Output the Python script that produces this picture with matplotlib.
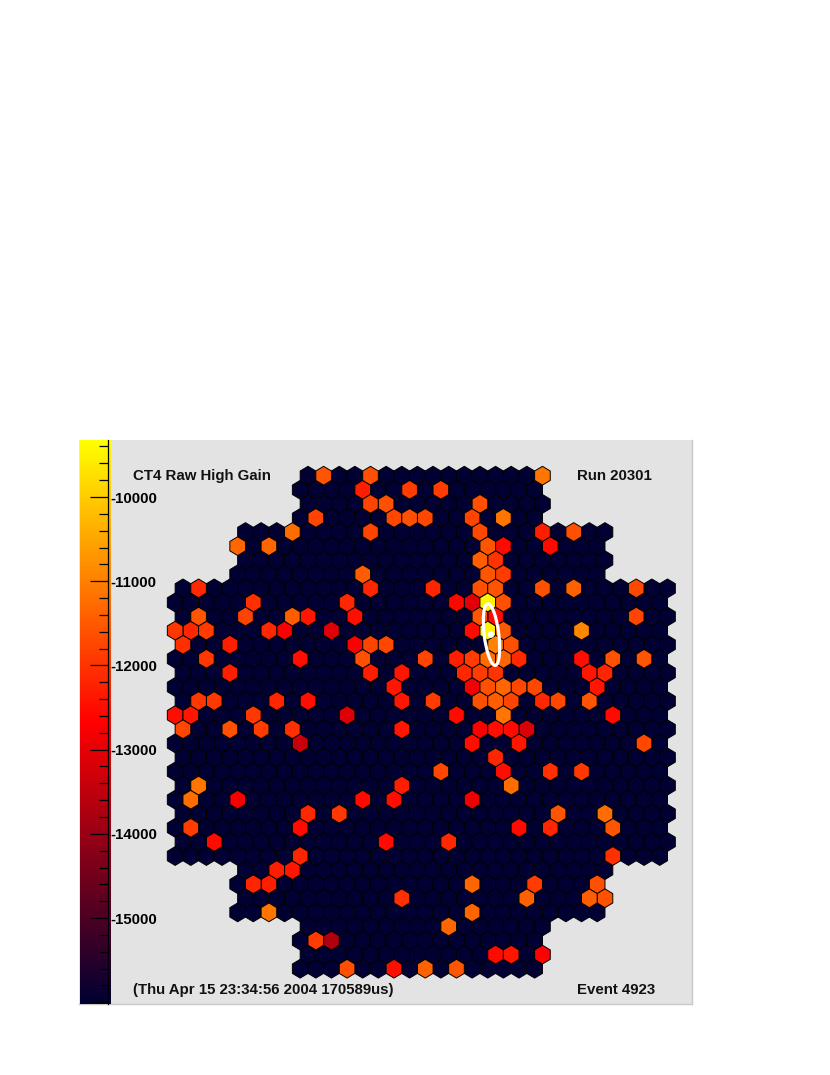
import numpy as np
import matplotlib
matplotlib.use("Agg")
import matplotlib.pyplot as plt
from matplotlib.collections import PolyCollection
from matplotlib.colors import LinearSegmentedColormap, Normalize
from matplotlib.patches import Ellipse

W, H = 830, 1075

# first and last half-column of every camera row
ROW_FIRST = [0, -1, 0, -1, -8, -9, -8, -9] + [-16, -17] * 10 + [-8, -9, -8, -9, 0, -1, 0, -1]
ROW_LAST = [30, 29, 30, 29, 38, 37, 38, 37] + [46, 45] * 10 + [38, 37, 38, 37, 30, 29, 30, 29]

HOT_COLS = [
    [2, 8, 30],
    [7, 13, 17],
    [8, 10, 22],
    [1, 11, 13, 15, 21, 25],
    [-2, 8, 22, 30, 34],
    [-9, -5, 23, 25, 31],
    [22, 24],
    [7, 23, 25],
    [-14, 8, 16, 22, 24, 30, 34, 42],
    [-7, 5, 19, 21, 23, 25],
    [-14, -8, -2, 0, 6, 22, 24, 42],
    [-17, -15, -13, -5, -3, 3, 21, 23, 25, 35],
    [-16, -10, 6, 8, 10, 24, 26],
    [-13, -1, 7, 15, 19, 21, 23, 25, 27, 35, 39, 43],
    [-10, 8, 12, 20, 22, 24, 36, 38],
    [11, 21, 23, 25, 27, 29, 37],
    [-14, -12, -4, 0, 12, 16, 22, 24, 26, 30, 32, 36],
    [-17, -15, -7, 5, 19, 25, 39],
    [-16, -10, -6, -2, 12, 22, 24, 26, 28],
    [-1, 21, 27, 43],
    [24],
    [17, 25, 31, 35],
    [-14, 12, 26],
    [-15, -9, 7, 11, 21],
    [0, 4, 32, 38],
    [-15, -1, 27, 31, 39],
    [-12, 10, 18],
    [-1, 39],
    [-4, -2],
    [-7, -5, 21, 29, 37],
    [12, 28, 36, 38],
    [-5, 21],
    [18],
    [1, 3],
    [24, 26, 30],
    [5, 11, 15, 19],
]
HOT_VALUES = [
    [-11550, -11650, -11150],
    [-12300, -11900, -11900],
    [-11800, -11650, -11650],
    [-11800, -11750, -11650, -11750, -11800, -11150],
    [-11250, -11800, -11750, -12300, -11650],
    [-11350, -11350, -11550, -12550, -12550],
    [-11450, -12000],
    [-11450, -11550, -11900],
    [-12150, -12200, -12200, -11650, -11550, -11650, -11400, -11750],
    [-12050, -12150, -12600, -13050, -9500, -11650],
    [-11550, -11800, -11450, -12400, -12500, -11550, -12550, -11800],
    [-11950, -12200, -11900, -12150, -12750, -13100, -12550, -9500, -11500, -10900],
    [-12050, -12300, -12750, -11800, -11750, -10950, -11650],
    [-11950, -12500, -11650, -11800, -12300, -11900, -11250, -11350, -12150, -12500, -11600, -11550],
    [-12300, -12300, -12400, -12150, -11900, -12000, -12400, -12200],
    [-12400, -12850, -11650, -11350, -11750, -11750, -12400],
    [-11950, -11950, -12200, -12500, -12400, -11900, -11650, -11450, -11800, -12150, -11750, -11550],
    [-12500, -12400, -11950, -13100, -12550, -11150, -12550],
    [-11750, -11650, -11900, -12050, -12400, -12750, -12500, -12550, -13150],
    [-13400, -12500, -12400, -11750],
    [-12200],
    [-11750, -12500, -12050, -11950],
    [-11150, -12300, -11250],
    [-11250, -12800, -12550, -12500, -12900],
    [-12150, -11950, -11550, -11250],
    [-11900, -12550, -12550, -12200, -11550],
    [-12550, -12550, -12150],
    [-12200, -12050],
    [-12300, -12400],
    [-12200, -12300, -11350, -11900, -11650],
    [-12050, -11400, -11450, -11600],
    [-11150, -11350],
    [-11350],
    [-11900, -13700],
    [-12550, -12400, -12650],
    [-11650, -12500, -11400, -11550],
]
BACKGROUND_VALUE = -16000
VMIN, VMAX = -16021, -9323

MAJOR_TICKS = [-16000, -15000, -14000, -13000, -12000, -11000, -10000]
MAJOR_LABELS = ["", "-15000", "-14000", "-13000", "-12000", "-11000", "-10000"]
MINOR_TICKS = [v for v in range(-15800, -9300, 200) if v % 1000 != 0]

# image parameters of the shower, in camera pixels
HILLAS_X, HILLAS_Y = 183.5, 158.9
HILLAS_LENGTH, HILLAS_WIDTH = 31.0, 7.3
HILLAS_ANGLE = -7

PITCH_X, PITCH_Y = 7.815, 14.086
X0, Y0 = 308.0, 475.7

cmap = LinearSegmentedColormap.from_list("ct", ["#000033", "#ff0000", "#ffff00"], N=256)
norm = Normalize(VMIN, VMAX)

plt.rcParams["font.family"] = ["Liberation Sans", "DejaVu Sans"]
plt.rcParams["font.weight"] = "bold"

fig = plt.figure(figsize=(W / 100, H / 100), dpi=100, facecolor="white")


def px_axes(left, top, right, bottom):
    return fig.add_axes([left / W, 1 - bottom / H, (right - left) / W, (bottom - top) / H])


ax = px_axes(78.5, 440, 692, 1004)
ax.set_facecolor("#e3e3e3")
ax.set_xlim(78.5 - X0, 692 - X0)
ax.set_ylim(1004 - Y0, 440 - Y0)
ax.set_xticks([])
ax.set_yticks([])
for s in ["top", "left"]:
    ax.spines[s].set_visible(False)
for s in ["right", "bottom"]:
    ax.spines[s].set_color("#c9c9c9")
    ax.spines[s].set_linewidth(1.0)

polys = []
vals = []
for row, (first, last) in enumerate(zip(ROW_FIRST, ROW_LAST)):
    lit = dict(zip(HOT_COLS[row], HOT_VALUES[row]))
    for col in range(first, last + 1, 2):
        cx = col * PITCH_X
        cy = row * PITCH_Y
        dx = PITCH_X
        dy = PITCH_Y / 3
        polys.append([(cx, cy - 2 * dy), (cx + dx, cy - dy), (cx + dx, cy + dy),
                      (cx, cy + 2 * dy), (cx - dx, cy + dy), (cx - dx, cy - dy)])
        vals.append(lit.get(col, BACKGROUND_VALUE))

# lit pixels last so their outline stays on top
order = np.argsort(vals)
hexes = PolyCollection([polys[i] for i in order], array=np.array(vals, dtype=float)[order],
                       cmap=cmap, norm=norm, edgecolors="black", linewidths=0.7)
ax.add_collection(hexes)

ax.add_patch(Ellipse((HILLAS_X, HILLAS_Y), 2 * HILLAS_WIDTH, 2 * HILLAS_LENGTH, angle=HILLAS_ANGLE,
                     fill=False, edgecolor="white", linewidth=2.3, zorder=5))
ax.add_patch(Ellipse((HILLAS_X - 0.5, HILLAS_Y), 6.5, 6.5, facecolor="white", edgecolor="none", zorder=5))

# colour scale
cax = px_axes(80, 440, 110.7, 1004)
cax.imshow(np.linspace(VMAX, VMIN, 512)[:, None], aspect="auto", cmap=cmap, norm=norm,
           extent=(0, 1, VMIN, VMAX), interpolation="bilinear")
cax.set_xticks([])
cax.set_xlim(0, 1)
cax.set_ylim(VMIN, VMAX)
for s in ["top", "left", "bottom"]:
    cax.spines[s].set_visible(False)
cax.spines["right"].set_position(("axes", (107.7 - 80) / 30.7))
cax.spines["right"].set_linewidth(0.9)
cax.spines["right"].set_color("black")
cax.yaxis.tick_right()
cax.set_yticks(MAJOR_TICKS)
cax.set_yticklabels(MAJOR_LABELS)
cax.set_yticks(MINOR_TICKS, minor=True)
cax.tick_params(axis="y", which="major", direction="in", length=13.2, width=0.9, pad=1.6, labelsize=10.85)
cax.tick_params(axis="y", which="minor", direction="in", length=6.7, width=0.9)
for lab in cax.get_yticklabels():
    lab.set_fontweight("bold")

fig.text(133 / W, 1 - 476 / H, "CT4 Raw High Gain", fontsize=10.85, va="center", ha="left", color="#111111")
fig.text(577 / W, 1 - 476 / H, "Run 20301", fontsize=10.85, va="center", ha="left", color="#111111")
fig.text(133 / W, 1 - 990 / H, "(Thu Apr 15 23:34:56 2004 170589us)", fontsize=10.85, va="center", ha="left", color="#111111")
fig.text(577 / W, 1 - 990 / H, "Event 4923", fontsize=10.85, va="center", ha="left", color="#111111")

fig.savefig("out.png", dpi=100)
